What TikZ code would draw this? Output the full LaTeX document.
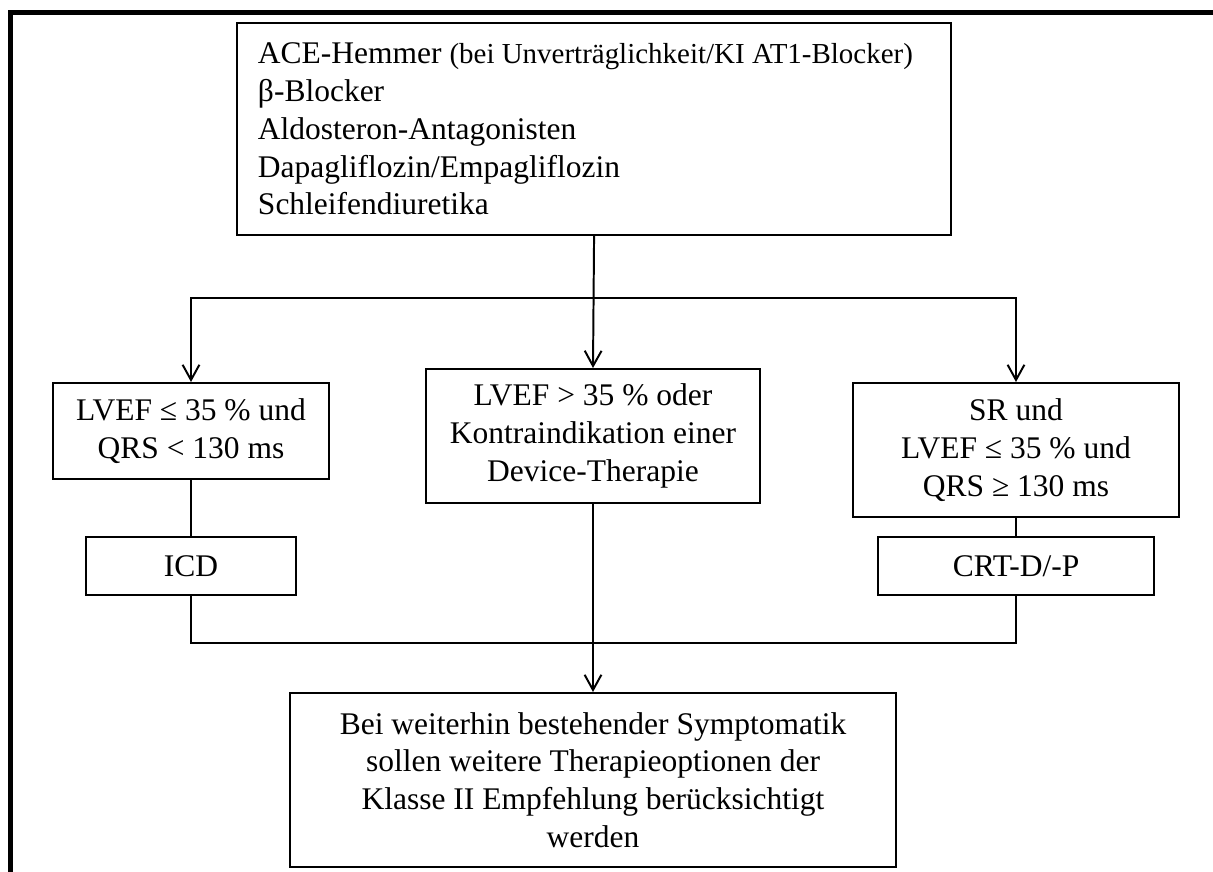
\documentclass[tikz,border=0pt]{standalone}
\usepackage{fontspec}
\setmainfont{Liberation Serif}
\usepackage{tikz}
\usetikzlibrary{positioning, arrows.meta}

\newcommand{\chartfont}{\fontsize{22.4}{26.9}\selectfont}
\newcommand{\notefont}{\fontsize{20.6}{26.9}\selectfont}

\begin{document}
\begin{tikzpicture}[x=0.025cm, y=-0.025cm,
    box/.style={draw, line width=1.4pt, align=center, inner sep=0pt, font=\chartfont},
    arrow/.style={-{Straight Barb[length=3.8mm, width=4.2mm]}, line width=1.4pt},
    link/.style={line width=1.4pt}
]
\useasboundingbox (0,0) rectangle (1213,872);

% Outer frame
\draw[line width=3.56pt, line join=miter] (10.5,880) -- (10.5,12.5) -- (1220,12.5);

% Basic medication
\node[box, anchor=north west, minimum width=17.85cm, minimum height=5.3cm,
      text width=16.8cm, align=flush left] (meds) at (236,22)
    {ACE-Hemmer {\notefont(bei Unverträglichkeit/KI AT1-Blocker)}\\
     β-Blocker\\
     Aldosteron-Antagonisten\\
     Dapagliflozin/Empagliflozin\\
     Schleifendiuretika};

% Conditions
\node[box, minimum width=6.9cm, minimum height=2.4cm] (narrowqrs) at (191,431)
    {LVEF ≤ 35 \% und\\ QRS < 130 ms};
\node[box, minimum width=8.325cm, minimum height=3.35cm] (nodevice) at (593,436)
    {LVEF > 35 \% oder\\ Kontraindikation einer\\ Device-Therapie};
\node[box, minimum width=8.15cm, minimum height=3.35cm] (wideqrs) at (1016,450)
    {SR und\\ LVEF ≤ 35 \% und\\ QRS ≥ 130 ms};

% Devices
\node[box, minimum width=5.25cm, minimum height=1.45cm] (icd) at (191,566) {ICD};
\node[box, minimum width=6.875cm, minimum height=1.45cm] (crt) at (1016,566) {CRT-D/-P};

% Further options
\node[box, minimum width=15.125cm, minimum height=4.35cm] (further) at (593,780)
    {Bei weiterhin bestehender Symptomatik\\
     sollen weitere Therapieoptionen der\\
     Klasse II Empfehlung berücksichtigt\\
     werden};

% Branching
\coordinate (split) at (593,298);
\draw[arrow] (meds.south) -- (nodevice.north);
\draw[arrow] (split) -| (narrowqrs.north);
\draw[arrow] (split) -| (wideqrs.north);

% Devices
\draw[link] (narrowqrs.south) -- (icd.north);
\draw[link] (wideqrs.south) -- (crt.north);

% Merging
\coordinate (merge) at (593,643);
\draw[link] (icd.south) |- (merge) -| (crt.south);
\draw[arrow] (nodevice.south) -- (further.north);

\end{tikzpicture}
\end{document}
